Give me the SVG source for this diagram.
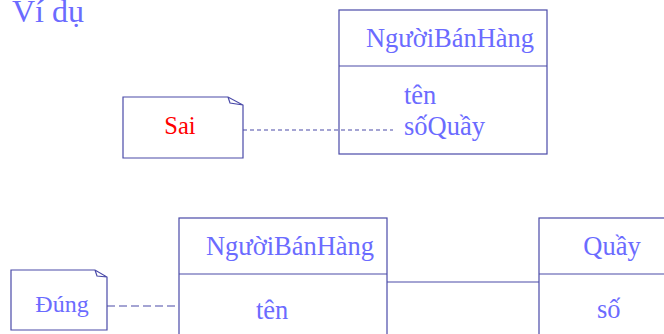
<svg xmlns="http://www.w3.org/2000/svg" width="664" height="334" viewBox="0 0 664 334">
<style>
.box{fill:none;stroke:#4a4aa8;stroke-width:1.2}
.t{font-family:"Liberation Serif","Times New Roman",serif;fill:#6b6bff;font-size:26.5px}
.dash{stroke:#4a4aa8;stroke-width:1.2;fill:none}
</style>
<rect width="664" height="334" fill="#fff"/>
<text class="t" x="12" y="22" style="font-size:32px">Ví dụ</text>
<g id="class-top">
<rect class="box" x="339" y="10" width="208" height="144"/>
<line class="box" x1="339" y1="66" x2="547" y2="66"/>
<text class="t" x="450" y="47" text-anchor="middle">NgườiBánHàng</text>
<text class="t" x="404" y="104">tên</text>
<text class="t" x="404" y="135">sốQuầy</text>
</g>
<g id="note-sai">
<path class="box" d="M123,97 H228 L243,105 V158 H123 Z M228,97 L230,103 L243,105"/>
<text x="180" y="134" text-anchor="middle" style="font-family:'Liberation Serif','Times New Roman',serif;font-size:24.5px;fill:#ff0000">Sai</text>
</g>
<g id="class-bottom">
<rect class="box" x="179" y="218" width="208" height="130"/>
<line class="box" x1="179" y1="274" x2="387" y2="274"/>
<text class="t" x="290" y="255" text-anchor="middle">NgườiBánHàng</text>
<text class="t" x="256" y="319">tên</text>
</g>
<g id="class-quay">
<rect class="box" x="539" y="218" width="140" height="130"/>
<line class="box" x1="539" y1="274" x2="679" y2="274"/>
<text class="t" x="612" y="255" text-anchor="middle">Quầy</text>
<text class="t" x="597" y="318">số</text>
</g>
<g id="note-dung">
<path class="box" d="M11,270 H95 L107,277 V330 H11 Z M95,270 L97,276 L107,277"/>
<text class="t" x="62" y="312" text-anchor="middle" style="font-size:24px">Đúng</text>
</g>
<g id="connectors">
<line class="dash" x1="243" y1="130" x2="393" y2="130" stroke-dasharray="4,3"/>
<line class="dash" x1="107" y1="306" x2="179" y2="306" stroke-dasharray="8,4"/>
<line class="box" x1="387" y1="282" x2="539" y2="282"/>
</g>
</svg>
